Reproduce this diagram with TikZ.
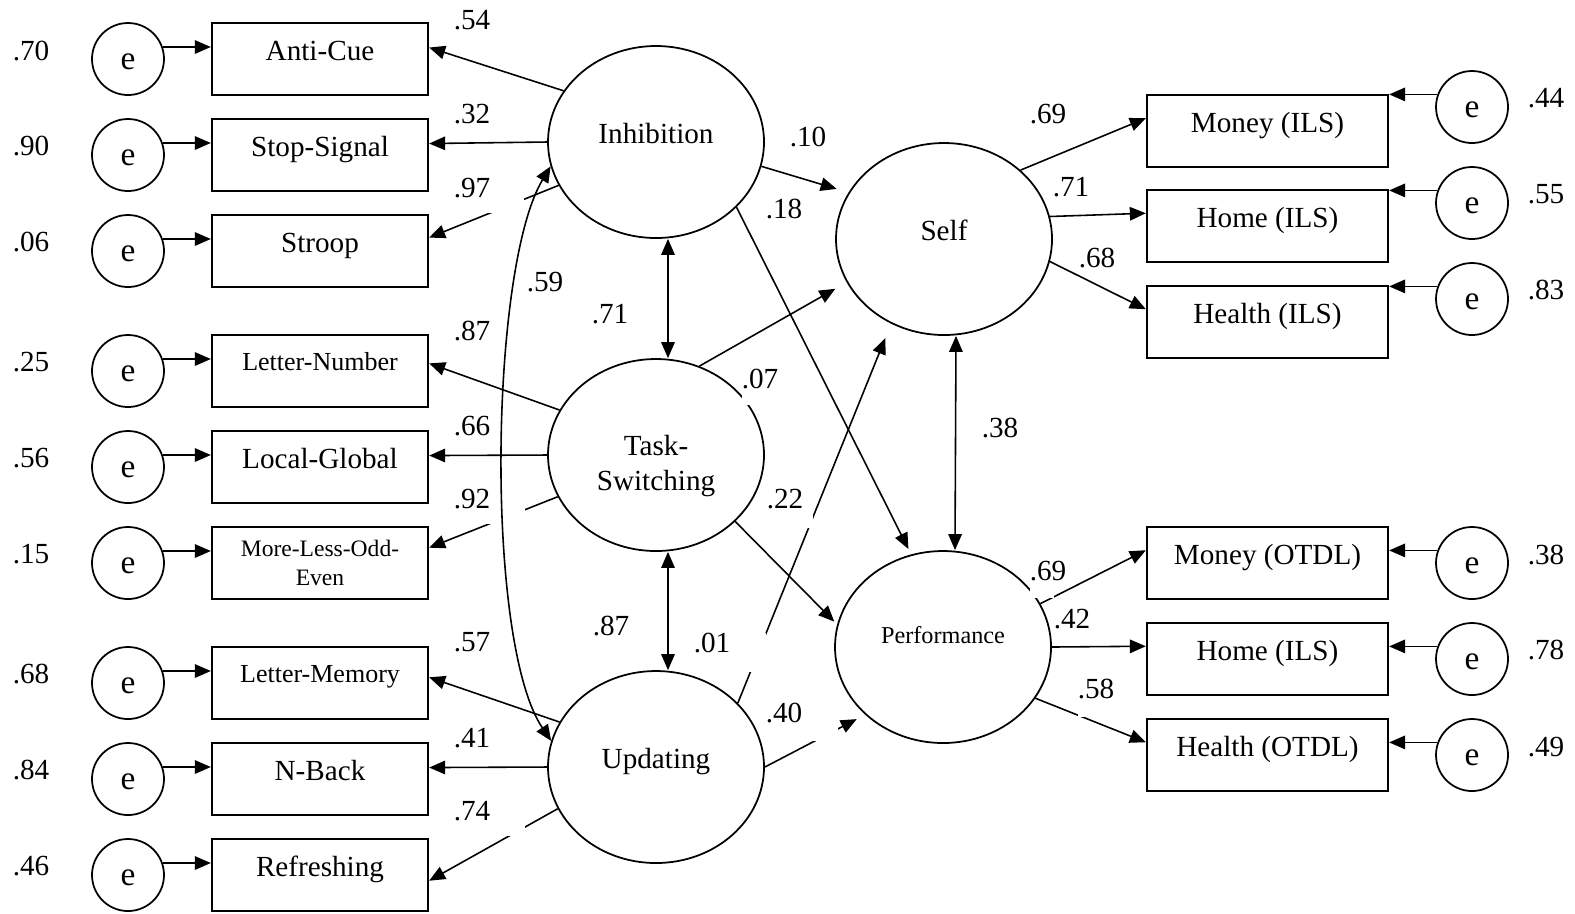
\documentclass[tikz,border=0pt]{standalone}
\usepackage{fontspec}
\setmainfont{Liberation Serif}
\usetikzlibrary{arrows.meta,shapes.geometric}

\begin{document}
\begin{tikzpicture}[x=0.1mm,y=0.1mm,line width=0.45pt,
    font=\fontsize{8.3}{10}\selectfont,
    >={Triangle[length=1.6mm,width=1.35mm]},
    up/.style={text height=6pt,text depth=5pt},
    box/.style={draw,line width=0.65pt,minimum width=21.6mm,minimum height=7.2mm,inner sep=0pt},
    obs/.style={box,up},
    obsr/.style={box,up,minimum width=24.1mm},
    smallobs/.style={box,font=\fontsize{7.4}{9}\selectfont,text height=5pt,text depth=5.5pt},
    lat/.style={draw,ellipse,line width=0.5pt,minimum width=21.6mm,minimum height=19.2mm,inner sep=0pt},
    err/.style={draw,circle,line width=0.5pt,minimum size=7.2mm,inner sep=0pt,text height=5.7pt,text depth=0pt,font=\fontsize{9.5}{11}\selectfont},
    gap/.style 2 args={fill=white,inner sep=0pt,anchor=north west,align=left,text height=2mm,text width=#1,text depth=#2}]
    \useasboundingbox (0,0) rectangle (1575,-913);

    \node[err] (e1) at (128,-59) {e};
    \node[err] (e2) at (128,-155) {e};
    \node[err] (e3) at (128,-251) {e};
    \node[err] (e4) at (128,-371) {e};
    \node[err] (e5) at (128,-467) {e};
    \node[err] (e6) at (128,-563) {e};
    \node[err] (e7) at (128,-683) {e};
    \node[err] (e8) at (128,-779) {e};
    \node[err] (e9) at (128,-875) {e};
    \node[obs] (ac) at (320,-59) {Anti-Cue};
    \node[obs] (ss) at (320,-155) {Stop-Signal};
    \node[obs] (st) at (320,-251) {Stroop};
    \node[smallobs] (ln) at (320,-371) {Letter-Number};
    \node[obs] (lg) at (320,-467) {Local-Global};
    \node[box,align=center,font=\fontsize{6.7}{8.2}\selectfont] (ml) at (320,-563) {More-Less-Odd-\\Even};
    \node[smallobs] (lm) at (320,-683) {Letter-Memory};
    \node[obs] (nb) at (320,-779) {N-Back};
    \node[obs] (rf) at (320,-875) {Refreshing};

    \node[lat,up] (inh) at (656,-142) {Inhibition};
    \node[lat,label={[yshift=-1.1mm,align=center]center:Task-\\Switching}] (ts) at (656,-455) {};
    \node[lat,up] (upd) at (656,-767) {Updating};
    \node[lat,up] (self) at (944,-239) {Self};
    \node[lat,font=\fontsize{6.9}{8}\selectfont,text height=4.5pt,text depth=6.7pt] (perf) at (943,-647) {Performance};

    \node[obsr] (mi) at (1267.5,-131) {Money (ILS)};
    \node[obsr] (hi) at (1267.5,-226) {Home (ILS)};
    \node[obsr] (hl) at (1267.5,-322) {Health (ILS)};
    \node[obsr] (mo) at (1267.5,-563) {Money (OTDL)};
    \node[obsr] (ho) at (1267.5,-659) {Home (ILS)};
    \node[obsr] (ht) at (1267.5,-755) {Health (OTDL)};
    \node[err] (e10) at (1472,-107) {e};
    \node[err] (e11) at (1472,-203) {e};
    \node[err] (e12) at (1472,-299) {e};
    \node[err] (e13) at (1472,-563) {e};
    \node[err] (e14) at (1472,-659) {e};
    \node[err] (e15) at (1472,-755) {e};

    \draw[->] (e1.19.5) -- (e1.19.5 -| ac.west);
    \draw[->] (e2.19.5) -- (e2.19.5 -| ss.west);
    \draw[->] (e3.19.5) -- (e3.19.5 -| st.west);
    \draw[->] (e4.19.5) -- (e4.19.5 -| ln.west);
    \draw[->] (e5.19.5) -- (e5.19.5 -| lg.west);
    \draw[->] (e6.19.5) -- (e6.19.5 -| ml.west);
    \draw[->] (e7.19.5) -- (e7.19.5 -| lm.west);
    \draw[->] (e8.19.5) -- (e8.19.5 -| nb.west);
    \draw[->] (e9.19.5) -- (e9.19.5 -| rf.west);
    \draw[->] (e10.160.5) -- (e10.160.5 -| mi.east);
    \draw[->] (e11.160.5) -- (e11.160.5 -| hi.east);
    \draw[->] (e12.160.5) -- (e12.160.5 -| hl.east);
    \draw[->] (e13.160.5) -- (e13.160.5 -| mo.east);
    \draw[->] (e14.160.5) -- (e14.160.5 -| ho.east);
    \draw[->] (e15.160.5) -- (e15.160.5 -| ht.east);

    \draw[->] (inh.151.5) -- (ac.6.3);
    \draw[->] (inh.west) -- (ss.6.3);
    \draw[->] (inh.204.3) -- (st.7.4);
    \draw[->] (ts.155.6) -- (ln.4.2);
    \draw[->] (ts.west) -- (lg.6.3);
    \draw[->] (ts.203.9) -- (ml.8.4);
    \draw[->] (upd.155) -- (lm.3.7);
    \draw[->] (upd.west) -- (nb.6.9);
    \draw[->] (upd.203.4) -- (rf.-3.7);

    \draw[->,shorten >=1.24mm] (inh.-13) -- (self.154.6);
    \draw[->,shorten >=0.6mm] (inh.-39) -- (perf.109.4);
    \draw[->,shorten >=1.3mm] (ts.64) -- (self.204);
    \draw[->,shorten >=0.4mm] (ts.-40.2) -- (perf.168.2);
    \draw[->,shorten >=1.56mm] (upd.38.4) -- (self.-122.5);
    \draw[->,shorten >=0.95mm] (upd.east) -- (perf.221.5);
    \draw[<->] ([xshift=1.2mm]inh.south) -- ([xshift=1.2mm]ts.north);
    \draw[<->] ([xshift=1.2mm]ts.south) -- ([xshift=1.2mm]upd.north);
    \draw[<->] ([xshift=1.2mm]self.south) -- ([xshift=1.2mm]perf.north);

    \draw[->] (self.42.3) -- (mi.174.3);
    \draw[->] (self.12.9) -- (hi.174.8);
    \draw[->] (self.-12.9) -- (hl.174.3);
    \draw[->] (perf.24) -- (mo.174.8);
    \draw[->] (perf.east) -- (ho.174.8);
    \draw[->] (perf.-29) -- (ht.174.3);

    \node[gap={7mm}{1.5mm}] at (453,-177) {.97};
    \node[gap={7.1mm}{1.5mm}] at (453,-488) {.92};
    \node[gap={7.1mm}{1.5mm}] at (453,-800) {.74};
    \node[gap={4.5mm}{1.6mm}] at (741,-368) {.07};
    \node[gap={4.6mm}{1.9mm}] at (766,-488) {.22};
    \node[gap={7.2mm}{1.9mm}] at (693,-632) {.01};
    \node[gap={7.2mm}{1.8mm}] at (765,-702) {.40};
    \node[gap={2.4mm}{1.7mm}] at (1029,-560) {.69};
    \node[gap={4mm}{1.8mm}] at (1077,-678) {.58};

    \draw[<->] (inh.193) to[out=239,in=124,looseness=0.53] (upd.166);

    \node at (31,-51) {.70};
    \node at (31,-146) {.90};
    \node at (31,-242) {.06};
    \node at (31,-362) {.25};
    \node at (31,-458) {.56};
    \node at (31,-554) {.15};
    \node at (31,-674) {.68};
    \node at (31,-770) {.84};
    \node at (31,-866) {.46};
    \node at (472,-20) {.54};
    \node at (472,-114) {.32};
    \node at (472,-331) {.87};
    \node at (472,-426) {.66};
    \node at (472,-642) {.57};
    \node at (472,-738) {.41};
    \node at (545,-282) {.59};
    \node at (610,-314) {.71};
    \node at (611,-626) {.87};
    \node at (808,-137) {.10};
    \node at (784,-209) {.18};
    \node at (1000,-428) {.38};
    \node at (1048,-114) {.69};
    \node at (1071,-187) {.71};
    \node at (1097,-258) {.68};
    \node at (1072,-619) {.42};
    \node at (1546,-98) {.44};
    \node at (1546,-194) {.55};
    \node at (1546,-290) {.83};
    \node at (1546,-555) {.38};
    \node at (1546,-650) {.78};
    \node at (1546,-747) {.49};
\end{tikzpicture}
\end{document}
